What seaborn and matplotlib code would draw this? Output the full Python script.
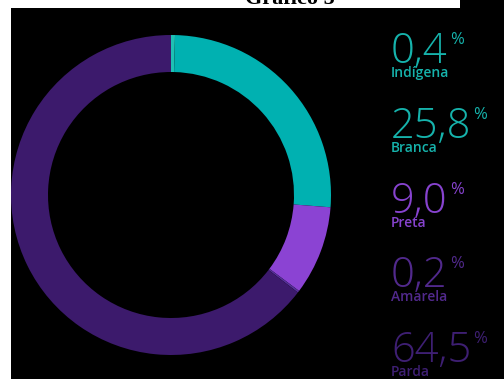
import matplotlib
matplotlib.use("Agg")
import matplotlib.pyplot as plt
import seaborn as sns
from matplotlib.patches import Rectangle
from matplotlib.text import Annotation

sns.set_theme(style="dark")

# Population share by colour/race (%)
categories = ["Indígena", "Branca", "Preta", "Amarela", "Parda"]
shares = [0.4, 25.8, 9.0, 0.2, 64.5]
share_labels = ["0,4", "25,8", "9,0", "0,2", "64,5"]

ring_colors = sns.color_palette(["#1fc0b4", "#00b1b1", "#8b43d3", "#56309a", "#3c1a6c"])
text_colors = ["#16b3ac", "#16b3ac", "#8743cf", "#51298c", "#3e1f73"]

W, H = 504, 379
fig = plt.figure(figsize=(W / 100, H / 100), dpi=100)
fig.patch.set_facecolor("white")


def fx(px):
    return px / W


def fy(py):
    return 1 - py / H


# Black panel behind everything
fig.patches.append(Rectangle((fx(11), 0), 1 - fx(11), fy(8), transform=fig.transFigure,
                             facecolor="black", edgecolor="none", zorder=-5))
fig.patches.append(Rectangle((fx(460), fy(8)), 1 - fx(460), 1 - fy(8), transform=fig.transFigure,
                             facecolor="black", edgecolor="none", zorder=-5))

# Title
fig.text(fx(290), fy(4), "Gráfico 5", ha="center", va="baseline", fontsize=16,
         fontweight="bold", family=["Liberation Serif", "DejaVu Serif"], color="black")

# Donut
cx, cy, r = 171, 195, 160
ax = fig.add_axes([fx(cx - r), fy(cy + r), 2 * r / W, 2 * r / H])
ax.set_facecolor("none")
ax.pie(shares, colors=ring_colors, startangle=90, counterclock=False, radius=1,
       wedgeprops=dict(width=37 / 160, edgecolor="none", linewidth=0))
ax.set_xlim(-1, 1)
ax.set_ylim(-1, 1)
ax.set_aspect("equal")
ax.axis("off")

# Right-hand legend of values
num_baselines = [63, 138, 213, 287, 362]
for lab, val, col, yb in zip(categories, share_labels, text_colors, num_baselines):
    t = fig.text(fx(391), fy(yb), val, ha="left", va="baseline", fontsize=30,
                 family=["Open Sans", "DejaVu Sans"], fontweight="light", color=col)
    pct = Annotation("%", xy=(1, 1), xycoords=t, xytext=(1.5, -1), textcoords="offset points",
                     ha="left", va="top", fontsize=12, color=col,
                     family=["Open Sans", "DejaVu Sans"], annotation_clip=False)
    pct.set_figure(fig)
    fig.texts.append(pct)
    fig.text(fx(391), fy(yb + 14), lab, ha="left", va="baseline", fontsize=10,
             family=["Open Sans", "DejaVu Sans"], fontweight="semibold", color=col)

fig.savefig("out.png", dpi=100, facecolor=fig.get_facecolor())
